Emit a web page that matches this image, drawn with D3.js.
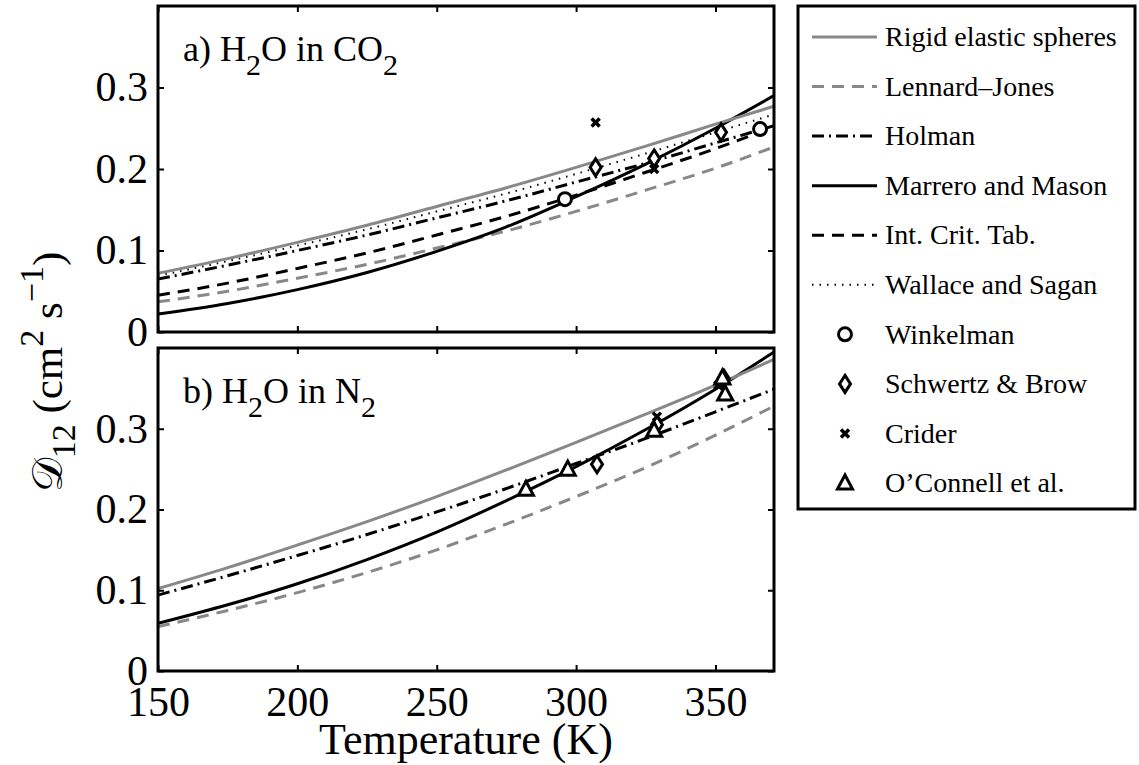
<!DOCTYPE html>
<html>
<head>
<meta charset="utf-8">
<script src="https://cdn.jsdelivr.net/npm/d3@7"></script>
<style>
  body { margin: 0; background: #fff; }
  svg { display: block; }
  svg text { font-family: "Liberation Serif", "Times New Roman", Times, Tinos, "DejaVu Serif", serif !important; fill: #000; }
</style>
</head>
<body>
<svg id="chart" width="1139" height="765"></svg>
<script>
const temps = [150, 175, 200, 225, 250, 275, 300, 325, 350, 371];

// a) H2O in CO2, D12 in cm^2/s
const rigidCO2   = [0.072, 0.090, 0.110, 0.131, 0.154, 0.177, 0.202, 0.228, 0.255, 0.277];
const ljCO2      = [0.037, 0.050, 0.066, 0.083, 0.103, 0.124, 0.148, 0.174, 0.201, 0.227];
const holmanCO2  = [0.065, 0.082, 0.100, 0.119, 0.140, 0.161, 0.184, 0.207, 0.232, 0.253];
const marreroCO2 = [0.022, 0.035, 0.052, 0.073, 0.099, 0.129, 0.166, 0.206, 0.250, 0.290];
const ictCO2     = [0.045, 0.060, 0.078, 0.097, 0.119, 0.142, 0.168, 0.196, 0.225, 0.252];
const wallaceCO2 = [0.069, 0.087, 0.106, 0.126, 0.148, 0.170, 0.194, 0.219, 0.245, 0.267];

// b) H2O in N2
const rigidN2   = [0.102, 0.128, 0.156, 0.185, 0.216, 0.249, 0.283, 0.318, 0.354, 0.386];
const ljN2      = [0.055, 0.075, 0.097, 0.122, 0.150, 0.182, 0.216, 0.252, 0.292, 0.328];
const holmanN2  = [0.094, 0.118, 0.143, 0.169, 0.197, 0.226, 0.257, 0.288, 0.321, 0.349];
const marreroN2 = [0.059, 0.082, 0.108, 0.138, 0.172, 0.211, 0.253, 0.299, 0.349, 0.395];

// measurements
const winkelCO2T = [296, 366],       winkelCO2 = [0.163, 0.249];
const schwCO2T   = [307, 328, 352],  schwCO2   = [0.202, 0.213, 0.245];
const criderCO2T = [307, 328],       criderCO2 = [0.257, 0.200];
const schwN2T    = [307.5, 329, 353], schwN2   = [0.256, 0.305, 0.362];
const criderN2T  = [329, 351],       criderN2  = [0.315, 0.354];
const oconN2T    = [282, 297, 328, 352.5, 353.5], oconN2 = [0.225, 0.250, 0.298, 0.363, 0.343];

const xTicks = [150, 200, 250, 300, 350];
const yTicks = [0, 0.1, 0.2, 0.3];

const legendNames = ["Rigid elastic spheres", "Lennard\u2013Jones", "Holman", "Marrero and Mason",
  "Int. Crit. Tab.", "Wallace and Sagan", "Winkelman", "Schwertz & Brow", "Crider", "O\u2019Connell et al."];

const gray = "#888";
const styles = {
  rigid:   {stroke: gray,   dash: null},
  lj:      {stroke: gray,   dash: "12,8"},
  holman:  {stroke: "#000", dash: "12,5,2,5"},
  marrero: {stroke: "#000", dash: null},
  ict:     {stroke: "#000", dash: "12,8"},
  wallace: {stroke: "#000", dash: "1.5,6", width: 2}
};

const markers = {
  circle:   "M6.5,0A6.5,6.5 0 1,1 -6.5,0A6.5,6.5 0 1,1 6.5,0Z",
  diamond:  "M0,-8.5L5.5,0L0,8.5L-5.5,0Z",
  cross:    "M-4,-4L4,4M-4,4L4,-4",
  triangle: "M0,-8L7.5,6L-7.5,6Z"
};

const svg = d3.select("#chart");
const x = d3.scaleLinear().domain([150, 371]).range([158, 774]);

const panels = [
  {top: 6, bottom: 332, label: ["a) H", "2", "O in CO", "2"],
   curves: [["lj", ljCO2], ["ict", ictCO2], ["marrero", marreroCO2], ["holman", holmanCO2],
            ["wallace", wallaceCO2], ["rigid", rigidCO2]],
   points: [["circle", winkelCO2T, winkelCO2], ["diamond", schwCO2T, schwCO2], ["cross", criderCO2T, criderCO2]]},
  {top: 348, bottom: 671, label: ["b) H", "2", "O in N", "2"],
   curves: [["lj", ljN2], ["marrero", marreroN2], ["holman", holmanN2], ["rigid", rigidN2]],
   points: [["diamond", schwN2T, schwN2], ["cross", criderN2T, criderN2], ["triangle", oconN2T, oconN2]]}
];

panels.forEach((p, i) => {
  const y = d3.scaleLinear().domain([0, 0.4]).range([p.bottom, p.top]);
  const g = svg.append("g");
  const clipId = "clip" + i;
  svg.append("clipPath").attr("id", clipId).append("rect")
    .attr("x", x.range()[0]).attr("y", p.top)
    .attr("width", x.range()[1] - x.range()[0]).attr("height", p.bottom - p.top);

  const line = d3.line().x((d, j) => x(temps[j])).y(d => y(d)).curve(d3.curveMonotoneX);

  const curves = g.append("g").attr("clip-path", `url(#${clipId})`).attr("fill", "none");
  p.curves.forEach(([k, vals]) => {
    curves.append("path")
      .attr("d", line(vals))
      .attr("stroke", styles[k].stroke)
      .attr("stroke-width", styles[k].width || 3)
      .attr("stroke-dasharray", styles[k].dash);
  });

  p.points.forEach(([m, ts, vs]) => {
    g.append("g").selectAll("path").data(ts).join("path")
      .attr("transform", (t, j) => `translate(${x(t)},${y(vs[j])})`)
      .attr("d", markers[m])
      .attr("fill", m === "cross" ? "none" : "#fff")
      .attr("stroke", "#000")
      .attr("stroke-width", m === "cross" ? 3.5 : 3);
  });

  // inside ticks on all four sides
  g.append("g").attr("transform", `translate(0,${p.bottom})`)
    .call(d3.axisBottom(x).tickValues(xTicks).tickSize(-6).tickPadding(4)
      .tickFormat(i === 1 ? d3.format("d") : ""))
    .call(a => a.select(".domain").remove())
    .call(a => a.selectAll("text").attr("dy", "0.98em"));
  g.append("g").attr("transform", `translate(0,${p.top})`)
    .call(d3.axisTop(x).tickValues(xTicks).tickSize(-6).tickFormat(""))
    .call(a => a.select(".domain").remove());
  g.append("g").attr("transform", `translate(${x.range()[0]},0)`)
    .call(d3.axisLeft(y).tickValues(yTicks).tickSize(-6).tickPadding(10)
      .tickFormat(d => d === 0 ? "0" : d3.format(".1f")(d)))
    .call(a => a.select(".domain").remove());
  g.append("g").attr("transform", `translate(${x.range()[1]},0)`)
    .call(d3.axisRight(y).tickValues(yTicks).tickSize(-6).tickFormat(""))
    .call(a => a.select(".domain").remove());

  g.selectAll(".tick line").attr("stroke", "#000").attr("stroke-width", 2);
  g.selectAll(".tick text").attr("font-size", 42);

  g.append("rect")
    .attr("x", x.range()[0]).attr("y", p.top)
    .attr("width", x.range()[1] - x.range()[0]).attr("height", p.bottom - p.top)
    .attr("fill", "none").attr("stroke", "#000").attr("stroke-width", 3);

  const lab = g.append("text").attr("x", 183).attr("y", p.top + 55).attr("font-size", 36);
  p.label.forEach((s, j) => {
    lab.append("tspan").text(s)
      .attr("font-size", j % 2 ? 30 : 36)
      .attr("dy", j === 0 ? 0 : (j % 2 ? 14 : -14));
  });
});

// axis titles
svg.append("text").attr("x", 466).attr("y", 754).attr("text-anchor", "middle")
  .attr("font-size", 44).text("Temperature (K)");

const yl = svg.append("text").attr("text-anchor", "middle").attr("font-size", 43)
  .attr("transform", "translate(62,372) rotate(-90)");
yl.append("tspan").text("\uD835\uDC9F");
yl.append("tspan").text("12").attr("font-size", 34).attr("dy", 13);
yl.append("tspan").text(" (cm").attr("dy", -13);
yl.append("tspan").text("2").attr("font-size", 34).attr("dy", -19);
yl.append("tspan").text(" s").attr("dy", 19);
yl.append("tspan").text("\u22121").attr("font-size", 34).attr("dy", -19);
yl.append("tspan").text(")").attr("dy", 19);

// legend
const lg = svg.append("g");
lg.append("rect").attr("x", 798).attr("y", 6).attr("width", 337).attr("height", 503)
  .attr("fill", "#fff").attr("stroke", "#000").attr("stroke-width", 3);

const lineKeys = ["rigid", "lj", "holman", "marrero", "ict", "wallace"];
const markKeys = ["circle", "diamond", "cross", "triangle"];
const rowY = d3.scalePoint().domain(legendNames).range([37, 483]);

legendNames.forEach((name, i) => {
  const yy = rowY(name);
  if (i < lineKeys.length) {
    const s = styles[lineKeys[i]];
    lg.append("line").attr("x1", 812).attr("x2", 877).attr("y1", yy).attr("y2", yy)
      .attr("stroke", s.stroke).attr("stroke-width", s.width || 3).attr("stroke-dasharray", s.dash);
  } else {
    const m = markKeys[i - lineKeys.length];
    lg.append("path").attr("transform", `translate(845,${yy})`).attr("d", markers[m])
      .attr("fill", m === "cross" ? "none" : "#fff").attr("stroke", "#000")
      .attr("stroke-width", m === "cross" ? 3.5 : 3);
  }
  lg.append("text").attr("x", 885).attr("y", yy).attr("dy", "0.33em")
    .attr("font-size", 28).text(name);
});
</script>
</body>
</html>
